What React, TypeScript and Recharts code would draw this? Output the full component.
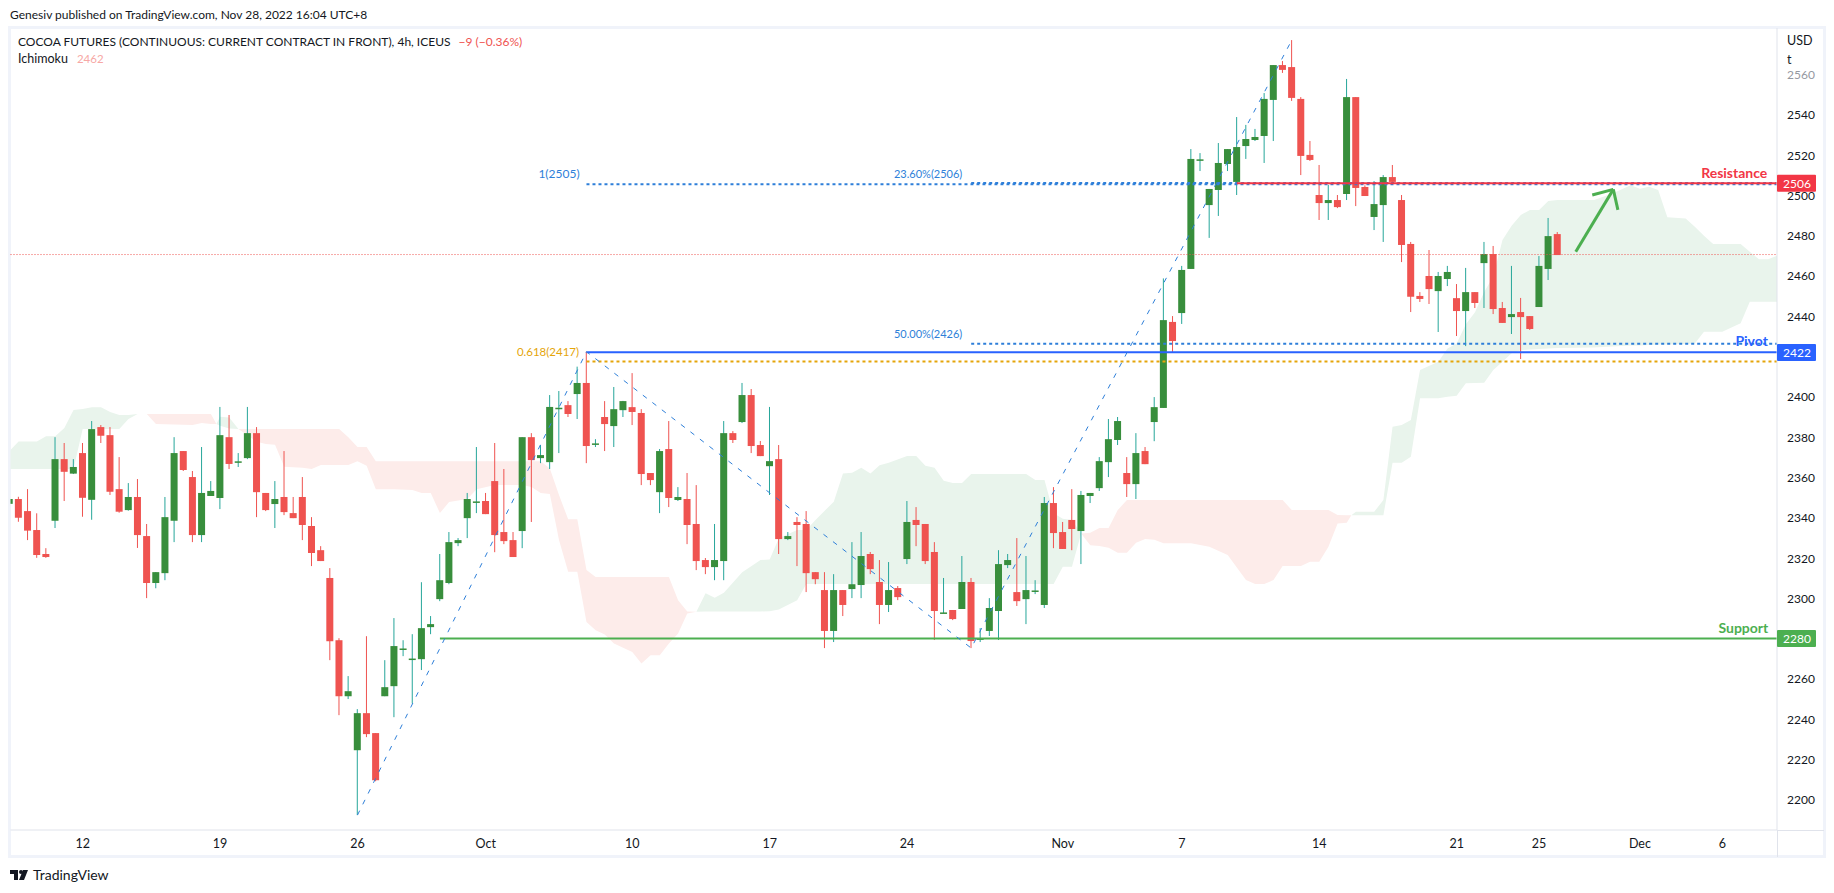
import { ComposedChart, Bar, Area, Line, XAxis, YAxis, ReferenceLine, ReferenceDot } from "recharts"

const UP = "#388e3c"
const DOWN = "#ef5350"
const WICK_UP = "#26a69a"
const FIB_BLUE = "#2e7fd9"
const FONT = "Lato, sans-serif"
const BODY_WIDTH = 7

const opens = [
  2346.9, 2349.3, 2343.3, 2333.9, 2322, 2338.5, 2369.1, 2361.9, 2372.1, 2348.9,
  2385, 2381, 2354.2, 2343.8, 2350.3, 2330.9, 2307.6, 2312.5, 2338.5, 2373.1,
  2360.2, 2331.4, 2350.8, 2349.8, 2380, 2368, 2369.6, 2382, 2352.3, 2346.8,
  2350.3, 2342.3, 2350.3, 2335.9, 2323.9, 2310.1, 2279.2, 2251.4, 2224.6, 2243,
  2233.1, 2251.4, 2256.4, 2275.1, 2270.1, 2269.8, 2285.7, 2299.6, 2307.6, 2327.4,
  2339.8, 2348.1, 2348.3, 2358.2, 2332.9, 2328.9, 2333.4, 2380, 2369.6, 2367.6,
  2394.6, 2395.9, 2401.4, 2406.9, 2376.9, 2390, 2385.5, 2393.4, 2394.9, 2392,
  2362.2, 2352.7, 2374.1, 2348.8, 2349.3, 2336.9, 2319, 2315.5, 2318.5, 2382,
  2387.5, 2400.9, 2376.1, 2365.6, 2369.1, 2329.4, 2337.9, 2336.9, 2313, 2304.1,
  2283.8, 2304.1, 2304.6, 2306.6, 2322, 2308.1, 2296.7, 2305.1, 2319.5, 2338.9,
  2336.9, 2323, 2293, 2294.2, 2294.7, 2308.1, 2280.1, 2283.8, 2293.7, 2316.5,
  2303.1, 2299.6, 2303.9, 2296.7, 2347.3, 2332.9, 2338.9, 2333.4, 2350.8, 2354.7,
  2367.6, 2378.6, 2362.2, 2356.7, 2373.1, 2387.5, 2394.5, 2437.2, 2441.6, 2463.5,
  2517.9, 2495.2, 2502.7, 2515.6, 2506.7, 2524.5, 2527.5, 2529.5, 2547.4, 2564.7,
  2563.7, 2547.9, 2520.1, 2500.2, 2496.2, 2497.7, 2500.7, 2548.8, 2504.2, 2489.3,
  2495.2, 2509.1, 2497.7, 2475.9, 2450.1, 2460, 2452.5, 2458.5, 2449, 2442.6,
  2452, 2466.4, 2470.9, 2444.1, 2439.6, 2442.1, 2440.1, 2444.6, 2463.5, 2480.8,
]

const highs = [
  2349.3, 2350.4, 2354.2, 2342.2, 2324.9, 2380, 2377.1, 2369.1, 2377.1, 2388,
  2386, 2385, 2370.1, 2357.2, 2359.2, 2336.9, 2313, 2350.3, 2380, 2373.1,
  2363.2, 2375.1, 2358.2, 2395, 2391, 2372.1, 2395, 2385, 2352.3, 2358.2,
  2373.1, 2350.3, 2360.2, 2340.3, 2325.9, 2315, 2280.2, 2261.4, 2245, 2281.2,
  2233.1, 2269.3, 2290.2, 2279.2, 2282.2, 2308, 2291.2, 2322, 2332.9, 2329.9,
  2352.3, 2375.1, 2352.3, 2377.1, 2364.2, 2332.9, 2380, 2382, 2376.1, 2400.9,
  2402.9, 2397.9, 2415, 2422.4, 2379, 2397.9, 2404.9, 2398, 2411.8, 2393.9,
  2362.2, 2374.1, 2388, 2355.2, 2362.2, 2356.2, 2320, 2336.9, 2388, 2383,
  2406.9, 2403.9, 2378.1, 2395, 2376.1, 2332.9, 2340.3, 2343.3, 2313, 2313,
  2312, 2304.1, 2327.9, 2332.9, 2323, 2319, 2318, 2306.1, 2348.3, 2345.3,
  2336.9, 2327.9, 2310.1, 2294.2, 2321, 2310.1, 2285.2, 2300.1, 2323.9, 2322,
  2329.9, 2321, 2309, 2350.3, 2355.2, 2337.9, 2354.2, 2353.3, 2352.3, 2370.1,
  2389, 2390, 2370.1, 2382, 2375.1, 2399.9, 2458.8, 2440.1, 2465, 2523,
  2521, 2503.2, 2526, 2523, 2538.9, 2535, 2533, 2550.8, 2564.7, 2566.7,
  2577.1, 2548.8, 2527, 2515.1, 2505.2, 2500.2, 2557.8, 2548.8, 2505, 2507.1,
  2510.1, 2515.1, 2500.2, 2476.9, 2452, 2472.9, 2462, 2465, 2456, 2464,
  2452, 2476.9, 2474.9, 2447.1, 2465, 2449.1, 2440.1, 2469.9, 2488.8, 2481.8,
]

const lows = [
  2346.9, 2338, 2328.9, 2320.1, 2320.1, 2334.9, 2348.3, 2361.7, 2340.5, 2339,
  2377.1, 2351.3, 2342.5, 2343.5, 2325, 2300.1, 2305, 2309, 2327.9, 2363.2,
  2327.9, 2327.9, 2350.8, 2344.3, 2364.2, 2365.2, 2369.1, 2340.3, 2343.3, 2334.9,
  2341.3, 2339.8, 2328.9, 2316, 2318.5, 2269.3, 2242, 2250, 2192.4, 2231.1,
  2209.2, 2251.4, 2241, 2271.3, 2247.8, 2264.4, 2282.2, 2298.6, 2307, 2325.9,
  2329.9, 2342.3, 2341.8, 2322.9, 2326.9, 2320.5, 2324.9, 2337.9, 2367.1, 2364.2,
  2372.1, 2390, 2389, 2367.1, 2375.1, 2373.1, 2375.1, 2390, 2386, 2356.2,
  2356.2, 2342.3, 2345.3, 2348.3, 2326.9, 2314, 2312, 2309, 2309, 2377.1,
  2387, 2372.1, 2370.6, 2351.3, 2322, 2328.9, 2316, 2303.1, 2307, 2275.3,
  2278.3, 2291.2, 2300.1, 2300.1, 2312, 2287.2, 2293.2, 2299.1, 2317, 2325.9,
  2317, 2279.3, 2292.5, 2289.2, 2294.7, 2275.3, 2278.3, 2281.3, 2279.3, 2315,
  2296.2, 2287.2, 2302.1, 2295.2, 2324.9, 2324.5, 2323.9, 2317, 2347.3, 2353.3,
  2360.2, 2376.1, 2350.3, 2349.3, 2366.6, 2378, 2394.5, 2422.3, 2436.2, 2463.5,
  2512.1, 2478.9, 2489.8, 2512.1, 2500.2, 2518.1, 2527, 2516.1, 2527, 2560.8,
  2546.9, 2510.1, 2517.1, 2487.8, 2487.8, 2493.7, 2497.7, 2494.7, 2499.7, 2482.8,
  2476.9, 2505.2, 2466.9, 2442.1, 2447.1, 2446.1, 2432.2, 2455, 2430.2, 2425.2,
  2444.1, 2444.1, 2441.1, 2436.7, 2431.2, 2418.8, 2433.2, 2444.6, 2458, 2470.4,
]

const closes = [
  2349.3, 2340, 2333.6, 2321.5, 2320.5, 2369.1, 2362.8, 2365.2, 2349.9, 2384,
  2380.7, 2352.9, 2343, 2350.3, 2331.4, 2307.6, 2313, 2340.3, 2372.1, 2363.7,
  2331.4, 2352.3, 2353.3, 2381, 2366.7, 2368, 2382, 2352.7, 2343.8, 2349.3,
  2342.8, 2339.8, 2336.4, 2322.5, 2318.5, 2278.7, 2251.4, 2253.9, 2243, 2232.6,
  2209.7, 2255.9, 2276.3, 2275.1, 2270.1, 2285.2, 2287.2, 2309, 2327.9, 2328.9,
  2349.3, 2348.1, 2341.8, 2331.4, 2328.4, 2320.5, 2380, 2368.6, 2371.1, 2395,
  2394.6, 2391.5, 2406.9, 2375.6, 2376.9, 2386.5, 2393.9, 2397.9, 2392.5, 2361.7,
  2358.7, 2373.1, 2349.8, 2350.3, 2336.4, 2318.5, 2315.5, 2319, 2382, 2378.6,
  2400.9, 2375.6, 2370.6, 2368.1, 2329.4, 2330.9, 2336.4, 2312.5, 2309.5, 2283.8,
  2304.1, 2296.7, 2307, 2321, 2314.5, 2296.7, 2304.1, 2300.6, 2337.9, 2336.4,
  2318.5, 2293.7, 2293, 2289.7, 2308.1, 2278.8, 2280.1, 2295.2, 2317, 2319,
  2298.6, 2304.1, 2303.9, 2347.3, 2332.4, 2324.5, 2334.4, 2351.3, 2352.3, 2368.1,
  2379, 2388, 2356.7, 2372.1, 2366.6, 2394.9, 2438.1, 2427.7, 2463, 2518.1,
  2517.9, 2503.2, 2516.1, 2523, 2524, 2528, 2529, 2547.9, 2564.7, 2562.3,
  2548.4, 2519.6, 2517.6, 2496.2, 2497.7, 2494.2, 2548.8, 2503.7, 2499.7, 2495.7,
  2509.1, 2506.7, 2475.4, 2449.7, 2448.6, 2453.5, 2460, 2462, 2442.6, 2452,
  2446.6, 2470.9, 2443.6, 2436.7, 2441.1, 2439.6, 2433.7, 2465, 2479.8, 2470.4,
]

// ichimoku cloud pieces, each row: candle index, upper span, lower span
const greenCloudA = [
  [0, 2373.1, 2364.2], [1, 2377.9, 2364.2], [3, 2377.9, 2364.2], [4, 2380.5, 2364.2],
  [5, 2380.5, 2364.2], [6, 2384.5, 2364.2], [7, 2393.5, 2364.2], [8, 2394, 2384],
  [9, 2394.9, 2384], [10, 2394.9, 2384], [11, 2392.5, 2384], [12, 2391, 2384],
  [13, 2391, 2389], [14, 2391.5, 2391.5],
]
const redCloudA = [
  [14, 2391.5, 2391.5], [15, 2391.5, 2391.5], [16, 2391.5, 2386.5], [20, 2391.5, 2386],
  [21, 2391.5, 2387], [22, 2391.5, 2386.5], [22.6, 2386.5, 2386.5],
]
const greenCloudB = [
  [22.6, 2386.5, 2386.5], [23, 2390.1, 2385.7], [24, 2389.8, 2384.3], [25, 2384, 2384],
]
const redCloudB = [
  [25, 2384, 2384], [26, 2384, 2381], [27, 2384, 2377.7], [28, 2384, 2376.6],
  [29, 2384, 2376.2], [30, 2384, 2365.3], [32, 2384, 2364.8], [33, 2384, 2364.2],
  [34, 2384, 2366.2], [36, 2384, 2366.2], [37, 2380, 2366.2], [38, 2375.1, 2368.1],
  [39, 2375.1, 2365.8], [40, 2368.1, 2354.2], [42, 2368.1, 2354.2], [44, 2368.1, 2353.8],
  [45, 2368.1, 2352.3], [46, 2368.1, 2352.3], [47, 2368.1, 2342.3], [48, 2368.1, 2347.8],
  [50, 2368.1, 2349.3], [51, 2368.1, 2354.2], [53, 2368.1, 2356.2], [56, 2368.1, 2356.2],
  [57, 2368.1, 2355.2], [58, 2368.1, 2352.3], [59, 2364.5, 2351.8], [60, 2351.3, 2328.9],
  [61, 2339.2, 2313.2], [62, 2339.2, 2313.2], [63, 2314, 2288.3], [64, 2310.6, 2284.2],
  [65, 2310.6, 2282], [66, 2310.6, 2277.6], [68, 2310.6, 2273.4], [69, 2310.6, 2267.7],
  [70, 2310.6, 2271.8], [71, 2310.6, 2271.8], [72, 2310.6, 2277.6], [73, 2299.1, 2282.6],
  [74, 2293.5, 2292.5], [75, 2293.3, 2293.3],
]
const greenCloudC = [
  [75, 2293.3, 2293.3], [76, 2302.5, 2293.5], [77, 2300.3, 2293.5], [78, 2302.8, 2293.5],
  [80, 2313, 2293.5], [82, 2319, 2293.5], [83, 2319.3, 2293.6], [84, 2329.8, 2294.5],
  [86, 2333.9, 2299.1], [87, 2333.9, 2307.1], [88, 2338.9, 2307.1], [90, 2348, 2307.1],
  [91, 2362, 2307.1], [92, 2362.3, 2307.1], [93, 2364.8, 2307.1], [94, 2362, 2307.1],
  [95, 2366.1, 2307.1], [96, 2367.3, 2307.1], [98, 2370.6, 2307.1], [99, 2370.6, 2307.1],
  [100, 2365.8, 2307.1], [101, 2364.8, 2307.1], [102, 2358.4, 2307.1], [103, 2357.2, 2307.1],
  [104, 2357.2, 2307.1], [105, 2361.7, 2307.1], [111, 2361.7, 2307.1], [112, 2358.7, 2307.1],
  [113, 2358.7, 2307.1], [114, 2342.2, 2307.1], [115, 2339.5, 2315.7], [116, 2338.9, 2315.7],
  [117, 2332.2, 2332.2],
]
const redCloudC = [
  [117, 2332.2, 2332.2], [118, 2332.5, 2326.4], [119, 2334.9, 2326], [120, 2334.9, 2325.1],
  [121, 2343.8, 2322.6], [122, 2348.8, 2322.6], [123, 2348.8, 2327.6], [124, 2348.8, 2329.4],
  [125, 2348.8, 2329.1], [126, 2348.8, 2327.3], [129, 2348.8, 2327.3], [131, 2348.8, 2325.6],
  [133, 2348.8, 2321.5], [135, 2348.8, 2309.1], [136, 2348.8, 2307.1], [137, 2348.8, 2307.1],
  [138, 2348.8, 2309.1], [139, 2348.8, 2316], [140, 2343.8, 2316], [141, 2343.8, 2316],
  [142, 2343.8, 2318.2], [143, 2343.8, 2318.2], [144, 2343.8, 2325.6], [145, 2341.3, 2337.2],
  [146, 2341.2, 2337.5], [146.5, 2341.2, 2341.2],
]
const greenCloudD = [
  [146.5, 2341.2, 2341.2], [147, 2343, 2341.2], [149, 2343, 2341.2], [150, 2348.8, 2341.2],
  [151, 2385.2, 2367.3], [152, 2386, 2367.3], [153, 2388.5, 2370.3], [154, 2413.3, 2399.3],
  [156, 2417.4, 2399.3], [157, 2424, 2400], [158, 2426.5, 2400.6], [159, 2436, 2406.7],
  [160, 2442, 2406.9], [161, 2452, 2407], [162, 2459.7, 2413.3], [163, 2477.9, 2417.4],
  [164, 2485, 2421.6], [165, 2490.3, 2423.2], [166, 2492.8, 2423.5], [167, 2492.8, 2423.8],
  [168, 2497.2, 2424], [169, 2497.7, 2424.3], [173, 2497.7, 2424.5], [175, 2501, 2425],
  [177, 2505, 2425.5], [178, 2503.3, 2425.5], [179, 2504.3, 2425.8], [180, 2502.7, 2426],
  [181, 2489.1, 2426], [183, 2488.6, 2426.3], [184, 2484.5, 2426.5], [185, 2480, 2432.3],
  [186, 2475.9, 2432.3], [187, 2475.9, 2432.3], [189, 2475.9, 2436.5], [190, 2472, 2447.2],
  [191, 2468.3, 2447.2], [192, 2468.3, 2447.2], [193, 2470.1, 2447.2],
]
const greenClouds = [greenCloudA, greenCloudB, greenCloudC, greenCloudD]
const redClouds = [redCloudA, redCloudB, redCloudC]

const zigzagIndex = [38, 63, 105, 140]
const zigzagPrice = [2192.4, 2422.4, 2275.3, 2577.1]

const dateTicks = [8, 23, 38, 52, 68, 83, 98, 115, 128, 143, 158, 167, 178, 187]
const dateLabels = ["12", "19", "26", "Oct", "10", "17", "24", "Nov", "7", "14", "21", "25", "Dec", "6"]
const priceTicks = [2200, 2220, 2240, 2260, 2280, 2300, 2320, 2340, 2360, 2380, 2400, 2420, 2440, 2460, 2480, 2500, 2520, 2540, 2560]
const shownPriceTicks = priceTicks.filter((p) => p !== 2420 && p !== 2280)

const LAST_INDEX = 192.97
const levelPrices = [2505.5, 2506.2, 2426.4, 2417.5, 2422.1, 2506, 2280, 2470.65]
const levelStarts = [63, 105, 105, 63, 63, 134, 47, 0.12]
const levelColors = [FIB_BLUE, FIB_BLUE, FIB_BLUE, "#e5a50a", "#2962ff", "#f23645", "#4caf50", DOWN]
const levelWidths = [2, 2, 2, 2, 2, 2, 2, 1]
const levelDashes = ["3 3", "3 3", "3 3", "3 3", undefined, undefined, undefined, "1 2"]

const noteTexts = ["1(2505)", "23.60%(2506)", "50.00%(2426)", "0.618(2417)", "Resistance", "Pivot", "Support"]
const noteIndex = [60, 100.3, 100.3, 58.8, 188.3, 190.2, 189.3]
const notePrices = [2510.6, 2510.6, 2431.3, 2422.4, 2511.1, 2427.9, 2285.2]
const noteColors = [FIB_BLUE, FIB_BLUE, FIB_BLUE, "#e5a50a", "#f23645", "#2962ff", "#4caf50"]
const noteSizes = [12, 11, 11, 11.5, 14, 14, 14]
const noteBold = [false, false, false, false, true, true, true]

const tagPrices = [2506, 2422, 2280]
const tagColors = ["#f23645", "#2962ff", "#4caf50"]

const arrowShaft = [[171, 2472], [175.1, 2503]]
const arrowHeadLeft = [[172.8, 2500.2], [175.1, 2503]]
const arrowHeadRight = [[175.6, 2492.8], [175.1, 2503]]
const arrows = [arrowShaft, arrowHeadLeft, arrowHeadRight]

const candles = opens.map((open, i) => ({ i, open, high: highs[i], low: lows[i], close: closes[i] }))
const toRows = (rows: number[][]) => rows.map(([i, upper, lower]) => ({ i, upper, lower }))
const zigzag = zigzagIndex.map((i, n) => ({ i, price: zigzagPrice[n] }))

function Candle(props: any) {
  const { x, y, width, height, payload } = props
  const { open, high, low, close } = payload
  const up = close >= open
  const span = high - low || 1
  const yOf = (v: number) => y + ((high - v) / span) * height
  const top = yOf(Math.max(open, close))
  const bottom = yOf(Math.min(open, close))
  const mid = x + width / 2
  return (
    <g>
      <line x1={mid} x2={mid} y1={y} y2={y + height} stroke={up ? WICK_UP : DOWN} strokeWidth={1} />
      <rect x={mid - BODY_WIDTH / 2} y={top} width={BODY_WIDTH} height={Math.max(bottom - top, 1.5)} fill={up ? UP : DOWN} />
    </g>
  )
}

function PriceTag(props: any) {
  const { cx, cy, price, color } = props
  return (
    <g>
      <rect x={cx} y={cy - 8.5} width={39} height={17} rx={1} fill={color} />
      <text x={cx + 20} y={cy + 4.5} textAnchor="middle" fontSize={12} fontFamily={FONT} fill="#fff">
        {price}
      </text>
    </g>
  )
}

function PriceTick(props: any) {
  const { x, y, payload } = props
  return (
    <text x={x} y={y + 4.5} fontSize={12} fontFamily={FONT} fill={payload.value === 2560 ? "#9598a1" : "#131722"}>
      {payload.value}
    </text>
  )
}

const absText = (left: number, top: number, size = 12): React.CSSProperties => ({
  position: "absolute",
  left,
  top,
  fontSize: size,
  lineHeight: "14px",
  fontFamily: FONT,
  whiteSpace: "nowrap",
  color: "#131722",
})

export default function App() {
  return (
    <div style={{ position: "absolute", left: 0, top: 0, width: 1834, height: 893, background: "#fff", overflow: "hidden" }}>
      <div style={absText(10, 8)}>Genesiv published on TradingView.com, Nov 28, 2022 16:04 UTC+8</div>
      <div style={{ position: "absolute", left: 8, top: 26, width: 1818, height: 832, border: "3px solid #f0f3fa", boxSizing: "border-box" }} />
      <div style={{ position: "absolute", left: 1777, top: 830, width: 1, height: 27, background: "#e0e3eb" }} />
      <div style={{ position: "absolute", left: 1777, top: 830, width: 47, height: 1, background: "#e0e3eb" }} />

      <div style={{ position: "absolute", left: 0, top: 0 }}>
        <ComposedChart
          width={1826}
          height={858}
          data={candles}
          margin={{ top: 28, right: 0, bottom: 0, left: 10.5 }}
        >
          <XAxis
            dataKey="i"
            type="number"
            domain={[0.12, LAST_INDEX]}
            allowDataOverflow
            ticks={dateTicks}
            interval={0}
            tickFormatter={(v: number) => dateLabels[dateTicks.indexOf(v)]}
            tickSize={0}
            tickMargin={9}
            height={28}
            stroke="#e0e3eb"
            tick={{ fill: "#131722", fontSize: 12.5, fontFamily: FONT }}
          />
          <YAxis
            orientation="right"
            type="number"
            domain={[2185, 2583.1]}
            allowDataOverflow
            ticks={shownPriceTicks}
            interval={0}
            tickSize={0}
            tickMargin={10}
            width={49}
            stroke="#e0e3eb"
            tick={<PriceTick />}
          />

          {greenClouds.map((rows, n) => (
            <Area
              key={"g" + n}
              data={toRows(rows)}
              dataKey={(d: any) => [d.lower, d.upper]}
              type="linear"
              stroke="none"
              fill="#e9f4ec"
              fillOpacity={1}
              dot={false}
              activeDot={false}
              isAnimationActive={false}
            />
          ))}
          {redClouds.map((rows, n) => (
            <Area
              key={"r" + n}
              data={toRows(rows)}
              dataKey={(d: any) => [d.lower, d.upper]}
              type="linear"
              stroke="none"
              fill="#fdecea"
              fillOpacity={1}
              dot={false}
              activeDot={false}
              isAnimationActive={false}
            />
          ))}

          {levelPrices.map((p, n) => (
            <ReferenceLine
              key={"l" + n}
              segment={[{ x: levelStarts[n], y: p }, { x: LAST_INDEX, y: p }]}
              stroke={levelColors[n]}
              strokeWidth={levelWidths[n]}
              strokeDasharray={levelDashes[n]}
            />
          ))}

          <Bar
            dataKey={(d: any) => [d.low, d.high]}
            barSize={BODY_WIDTH}
            shape={<Candle />}
            isAnimationActive={false}
          />

          <Line
            data={zigzag}
            dataKey="price"
            type="linear"
            stroke={FIB_BLUE}
            strokeWidth={1}
            strokeDasharray="5 7"
            dot={false}
            activeDot={false}
            isAnimationActive={false}
          />

          {arrows.map((a, n) => (
            <ReferenceLine
              key={"a" + n}
              segment={[{ x: a[0][0], y: a[0][1] }, { x: a[1][0], y: a[1][1] }]}
              stroke="#4caf50"
              strokeWidth={3}
            />
          ))}

          {noteTexts.map((t, n) => (
            <ReferenceDot
              key={"n" + n}
              x={noteIndex[n]}
              y={notePrices[n]}
              r={0}
              stroke="none"
              fill="none"
              label={{ value: t, position: "center", fill: noteColors[n], fontSize: noteSizes[n], fontFamily: FONT, fontWeight: noteBold[n] ? 700 : 400 }}
            />
          ))}

          {tagPrices.map((p, n) => (
            <ReferenceDot
              key={"t" + n}
              x={LAST_INDEX}
              y={p}
              ifOverflow="visible"
              shape={<PriceTag price={p} color={tagColors[n]} />}
            />
          ))}
        </ComposedChart>
      </div>

      <div style={absText(18, 35)}>
        COCOA FUTURES (CONTINUOUS: CURRENT CONTRACT IN FRONT), 4h, ICEUS
        <span style={{ color: DOWN, marginLeft: 8 }}>−9 (−0.36%)</span>
      </div>
      <div style={absText(18, 52, 12.5)}>
        Ichimoku<span style={{ color: "#f7a8a5", marginLeft: 9, fontSize: 11.5 }}>2462</span>
      </div>
      <div style={absText(1787, 34, 12.5)}>USD</div>
      <div style={absText(1787, 53, 12.5)}>t</div>

      <svg style={{ position: "absolute", left: 10, top: 869 }} width={20} height={12} viewBox="0 0 20 12">
        <path d="M0 1h8v10H4V5H0z M14 11l4-10h-5l-4 10z" fill="#131722" />
        <circle cx={11} cy={3} r={2} fill="#131722" />
      </svg>
      <div style={absText(33, 868, 14)}>TradingView</div>
    </div>
  )
}
